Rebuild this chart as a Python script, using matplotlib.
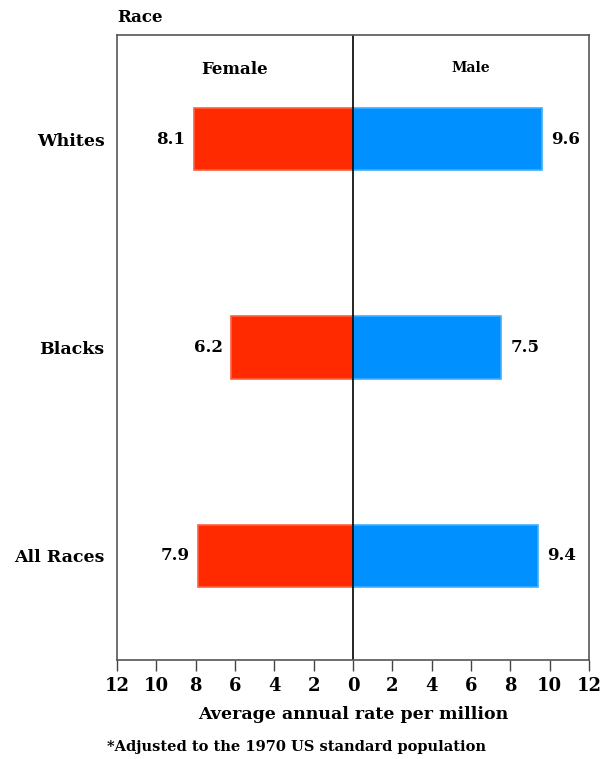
import matplotlib
matplotlib.use("Agg")
import matplotlib.pyplot as plt

races = ["All Races", "Blacks", "Whites"]
female = [7.9, 6.2, 8.1]
male = [9.4, 7.5, 9.6]
ticks = [-12, -10, -8, -6, -4, -2, 0, 2, 4, 6, 8, 10, 12]
tick_labels = ["12", "10", "8", "6", "4", "2", "0", "2", "4", "6", "8", "10", "12"]

plt.rcParams['font.family'] = ['DejaVu Serif']
plt.rcParams['font.weight'] = 'bold'

fig = plt.figure(figsize=(6.1, 7.59), dpi=100)
ax = fig.add_axes([0.1918, 0.1304, 0.7738, 0.8235])

pos = list(range(len(races)))
neg_female = [-v for v in female]
ax.barh(pos, neg_female, height=0.3, color="#FF2A00", edgecolor="#FF6040", linewidth=1.2)
ax.barh(pos, male, height=0.3, color="#0090FF", edgecolor="#40AEFF", linewidth=1.2)
ax.axvline(0, color="black", linewidth=1.2)

for i in pos:
    ax.annotate(f"{female[i]}", (-female[i], i), xytext=(-6, 0), textcoords="offset points",
                ha="right", va="center", fontsize=12, fontweight="bold")
    ax.annotate(f"{male[i]}", (male[i], i), xytext=(7, 0), textcoords="offset points",
                ha="left", va="center", fontsize=12, fontweight="bold")

ax.set_xlim(-12, 12)
ax.set_ylim(-0.5, 2.5)
ax.set_xticks(ticks)
ax.set_xticklabels(tick_labels, fontsize=13, fontweight="bold")
ax.set_yticks(pos)
ax.set_yticklabels(races, fontsize=12.5, fontweight="bold")
ax.tick_params(axis="y", length=0, pad=9)
ax.tick_params(axis="x", direction="out", length=8, width=1, color="#444444", pad=4)
for s in ax.spines.values():
    s.set_color("#555555")
    s.set_linewidth(1.2)

ax.set_xlabel("Average annual rate per million", fontsize=12.5, fontweight="bold", labelpad=8)

ax.text(-6, 2.335, "Female", ha="center", va="center", fontsize=12, fontweight="bold")
ax.text(6, 2.34, "Male", ha="center", va="center", fontsize=10, fontweight="bold")
fig.text(117 / 610, 1 - 17 / 759, "Race", ha="left", va="center", fontsize=12, fontweight="bold")
fig.text(107 / 610, 1 - 747 / 759, "*Adjusted to the 1970 US standard population",
         ha="left", va="center", fontsize=10.5, fontweight="bold")

fig.savefig("out.png", dpi=100)
